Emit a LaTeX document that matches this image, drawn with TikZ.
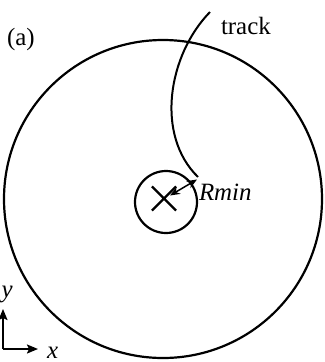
\documentclass[tikz,border=0pt]{standalone}
\usepackage{fontspec}
\setmainfont{Liberation Serif}
\usetikzlibrary{arrows.meta,shapes.misc}
\begin{document}
\begin{tikzpicture}[x=1bp,y=-1bp, line width=2bp,
  lbl/.style={inner sep=0pt, font=\fontsize{25}{28}\selectfont},
  ring/.style={circle, draw, inner sep=0pt, line width=2.2bp},
  axis/.style={-{Stealth[length=11bp,width=9bp,inset=2bp]}, line width=1.8bp}]
\useasboundingbox (0,0) rectangle (325,362);
% detector circles
\node[ring, minimum size=318bp] (outer) at (163,199) {};
\node[ring, minimum size=62bp] (inner) at (166,202) {};
\node[cross out, draw, line width=2.2bp, minimum size=22bp, inner sep=0pt] (vtx) at (164,198.5) {};
% track
\coordinate (tstart) at (210,12);
\coordinate (tend) at (198,177);
\draw[line width=2bp] (tstart) .. controls (168,55) and (155,135) .. (tend);
% Rmin arrow
\coordinate (rs) at (170,195.5);
\coordinate (re) at (197,179.5);
\draw[line width=1.5bp, {Stealth[length=10bp,width=8bp]}-{Stealth[length=10bp,width=8bp]}] (rs) -- (re);
% labels
\node[lbl, anchor=base west] (lab) at (6,45) {(a)};
\node[lbl, anchor=base west] (trk) at (220,34) {track};
\node[lbl, anchor=base west] (rmin) at (198,200) {\textit{Rmin}};
% axes
\coordinate (o) at (3,349);
\coordinate (xt) at (38,349);
\coordinate (yt) at (3,309);
\draw[axis] (o) -- (xt);
\draw[axis] (o) -- (yt);
\node[lbl, anchor=base west] (xl) at (46,358) {\textit{x}};
\node[lbl, anchor=north west] (yl) at (0.5,285) {\textit{y}};
\end{tikzpicture}
\end{document}
